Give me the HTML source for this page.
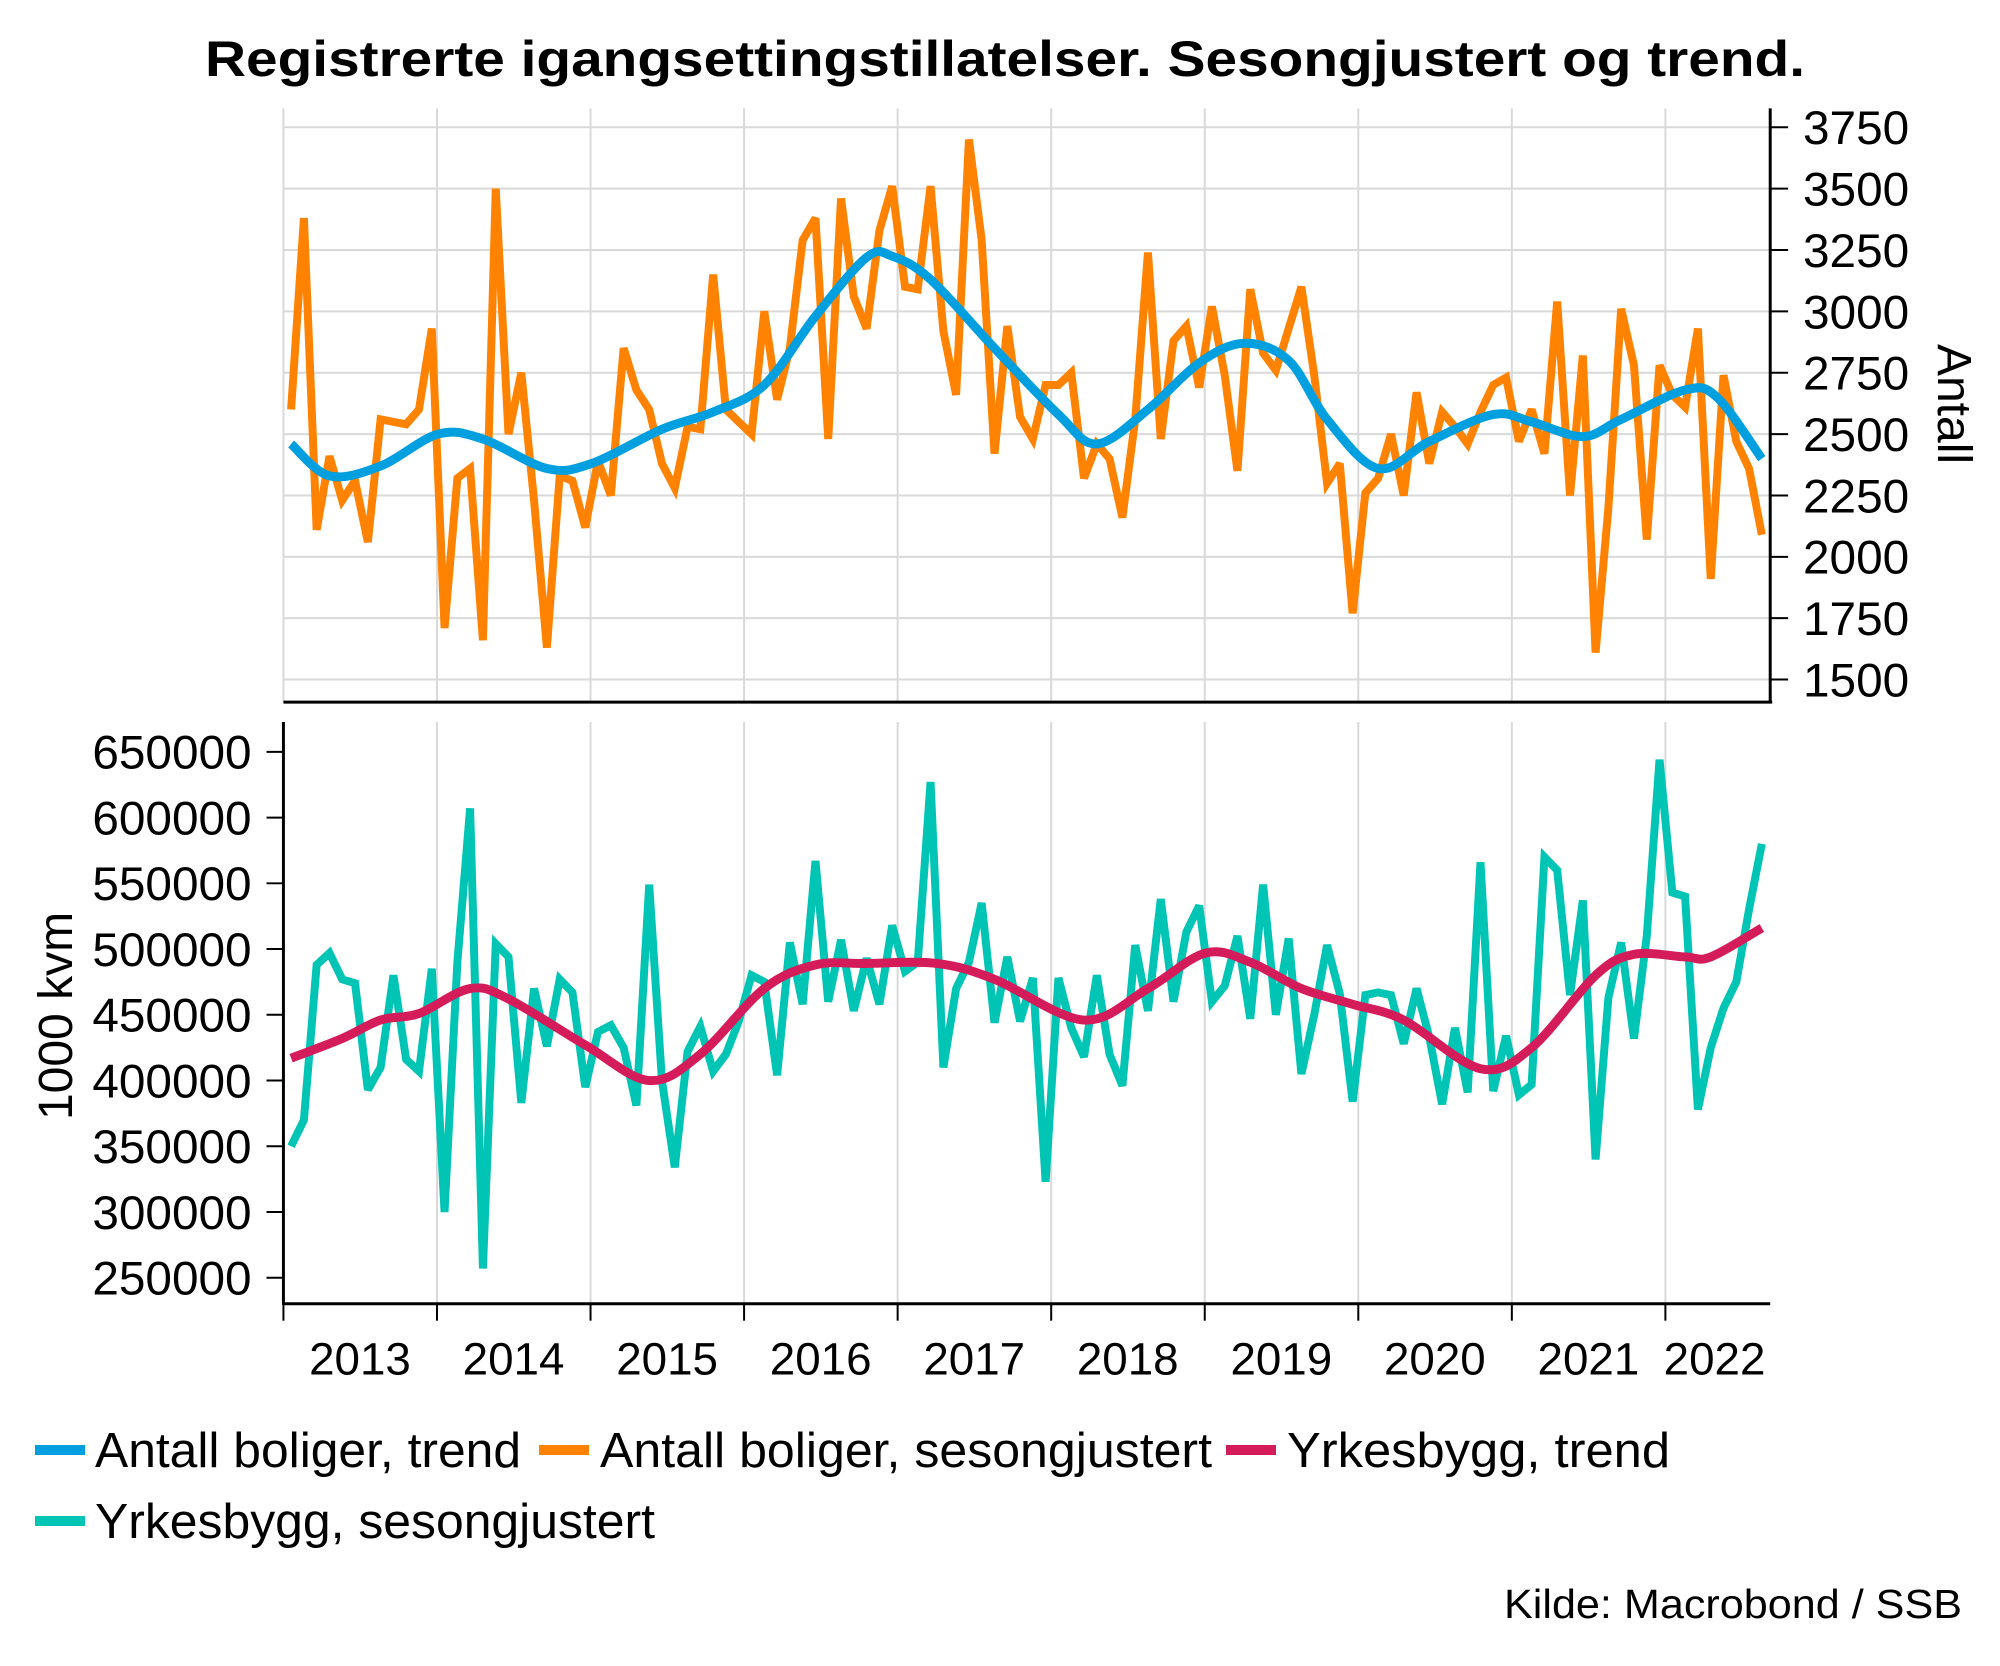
<!DOCTYPE html>
<html><head><meta charset="utf-8"><style>
html,body{margin:0;padding:0;background:#fff;}
svg{display:block;font-family:"Liberation Sans",Arial,sans-serif;}
</style></head><body>
<svg id="c" width="2000" height="1666" viewBox="0 0 2000 1666" xmlns="http://www.w3.org/2000/svg">
<rect width="2000" height="1666" fill="#fff"/>
<text x="1005" y="76" text-anchor="middle" font-size="50" font-weight="bold" textLength="1600" lengthAdjust="spacingAndGlyphs">Registrerte igangsettingstillatelser. Sesongjustert og trend.</text>
<g transform="scale(0.9945)">
<g id="grid"></g>
<g id="axes"></g>
<g id="series"></g>
</g>
<text transform="translate(1938,404) rotate(90)" text-anchor="middle" font-size="48">Antall</text>
<text transform="translate(72,1016) rotate(-90)" text-anchor="middle" font-size="48">1000 kvm</text>
<g font-size="49">
<rect x="35" y="1445" width="50" height="10" fill="#009fdf"/><text x="95" y="1467" textLength="426" lengthAdjust="spacingAndGlyphs">Antall boliger, trend</text>
<rect x="539" y="1445" width="50" height="10" fill="#ff8200"/><text x="600" y="1467" textLength="612" lengthAdjust="spacingAndGlyphs">Antall boliger, sesongjustert</text>
<rect x="1226" y="1445" width="50" height="10" fill="#d51c5a"/><text x="1287" y="1467" textLength="383" lengthAdjust="spacingAndGlyphs">Yrkesbygg, trend</text>
<rect x="35" y="1516" width="50" height="10" fill="#00c4b4"/><text x="95" y="1538" textLength="560" lengthAdjust="spacingAndGlyphs">Yrkesbygg, sesongjustert</text>
</g>
<text x="1962" y="1618" text-anchor="end" font-size="41" textLength="458" lengthAdjust="spacingAndGlyphs">Kilde: Macrobond / SSB</text>
</svg>
<script>
var NS="http://www.w3.org/2000/svg";
function el(p,t,a,txt){var e=document.createElementNS(NS,t);for(var k in a)e.setAttribute(k,a[k]);if(txt!==undefined)e.textContent=txt;p.appendChild(e);return e;}
var G=document.getElementById('grid'),A=document.getElementById('axes'),S=document.getElementById('series');
function X(i){return 292.7+12.86*i;}
function YT(v){return 128+(3750-v)/250*61.7;}
function YB(v){return 756+(650000-v)/50000*66.1;}
var L=285,R=1780;
for(var v=1500;v<=3750;v+=250){var y=YT(v);el(G,'line',{x1:L,x2:R,y1:y,y2:y,stroke:'#d9d9d9','stroke-width':2});
 el(A,'line',{x1:R,x2:R+18,y1:y,y2:y,stroke:'#000','stroke-width':2});
 el(A,'text',{x:1813,y:y+17,'font-size':48},String(v));}
for(var k=0;k<10;k++){var x=L+154.4*k;
 el(G,'line',{x1:x,x2:x,y1:109,y2:706,stroke:'#d9d9d9','stroke-width':2});
 el(G,'line',{x1:x,x2:x,y1:726,y2:1311,stroke:'#d9d9d9','stroke-width':2});
 el(A,'line',{x1:x,x2:x,y1:1311,y2:1328,stroke:'#000','stroke-width':2});
 var lx=(k<9)?x+77:1724;
 el(A,'text',{x:lx,y:1382,'text-anchor':'middle','font-size':46},String(2013+k));}
for(var v=250000;v<=650000;v+=50000){var y=YB(v);
 el(A,'line',{x1:268,x2:L,y1:y,y2:y,stroke:'#000','stroke-width':2});
 el(A,'text',{x:253,y:y+17,'text-anchor':'end','font-size':48},String(v));}
el(A,'line',{x1:L,x2:R+2,y1:706,y2:706,stroke:'#000','stroke-width':3});
el(A,'line',{x1:R,x2:R,y1:109,y2:707,stroke:'#000','stroke-width':3});
el(A,'line',{x1:L-1,x2:R,y1:1311,y2:1311,stroke:'#000','stroke-width':3});
el(A,'line',{x1:L,x2:L,y1:726,y2:1312,stroke:'#000','stroke-width':3});

var orange=[2600,3380,2110,2410,2230,2310,2060,2560,2550,2540,2600,2930,
1710,2320,2360,1660,3500,2500,2750,2230,1630,2330,2310,2120,
2390,2250,2850,2680,2600,2380,2280,2530,2520,3150,2600,2550,
2500,3000,2640,2850,3290,3380,2480,3460,3060,2930,3330,3510,
3100,3090,3510,2920,2660,3700,3290,2420,2940,2570,2480,2700,
2700,2750,2320,2460,2400,2160,2560,3240,2480,2880,2940,2690,
3020,2740,2350,3090,2830,2760,2930,3100,2740,2300,2380,1770,
2260,2320,2500,2250,2670,2380,2590,2530,2460,2590,2700,2730,
2470,2600,2420,3040,2250,2820,1610,2200,3010,2780,2070,2780,
2660,2610,2930,1910,2740,2470,2360,2090];
var teal=[350000,370000,488000,497000,477000,474000,393000,410000,480000,416000,407000,485000,
300000,490000,607000,257000,504000,494000,383000,470000,426000,477000,467000,395000,
437000,442000,425000,381000,549000,400000,334000,422000,441000,407000,420000,445000,
480000,475000,404000,505000,458000,567000,460000,507000,453000,493000,458000,518000,
483000,490000,627000,410000,470000,490000,535000,444000,494000,445000,478000,323000,
478000,440000,418000,480000,420000,396000,503000,453000,538000,460000,513000,533000,
460000,472000,510000,447000,549000,450000,508000,405000,450000,503000,466000,384000,
465000,467000,465000,428000,470000,433000,382000,440000,391000,566000,392000,434000,
389000,397000,570000,560000,465000,537000,340000,463000,505000,432000,510000,644000,
543000,540000,378000,425000,455000,475000,530000,580000];
var blueC=[[0,2460],[3,2330],[7,2370],[11.5,2500],[15,2480],[20,2360],[23.5,2380],[29,2520],[33,2590],[37,2700],[41,2980],[45,3220],[47,3225],[50,3130],[55,2850],[60,2580],[63,2460],[67,2600],[71,2790],[74.5,2870],[78,2800],[81,2560],[85,2360],[89,2470],[94,2580],[97,2550],[101,2490],[104,2560],[109,2680],[111.5,2650],[115,2400]];
var redC=[[0,417000],[4,432000],[7,446000],[10,451000],[14,470000],[17,462000],[23,427000],[28,400000],[32,420000],[37,470000],[41,488000],[45,489000],[50.5,489000],[55,477000],[62,446000],[67,470000],[71.5,497000],[75,490000],[79,470000],[83,458000],[87,446000],[93,409000],[97,425000],[102,480000],[105,496000],[109,494000],[111,494000],[115,516000]];
function poly(vals,yf,col){var d='';for(var i=0;i<vals.length;i++)d+=(i?'L':'M')+X(i).toFixed(1)+','+yf(vals[i]).toFixed(1);
 el(S,'path',{d:d,fill:'none',stroke:col,'stroke-width':8,'stroke-linejoin':'miter','stroke-miterlimit':3});}
function smooth(pts,yf,col){var P=pts.map(function(p){return [X(p[0]),yf(p[1])];});
 var d='M'+P[0][0].toFixed(1)+','+P[0][1].toFixed(1);
 for(var i=0;i<P.length-1;i++){var p0=P[i-1]||P[i],p1=P[i],p2=P[i+1],p3=P[i+2]||P[i+1];
  var c1=[p1[0]+(p2[0]-p0[0])/6,p1[1]+(p2[1]-p0[1])/6],c2=[p2[0]-(p3[0]-p1[0])/6,p2[1]-(p3[1]-p1[1])/6];
  d+='C'+c1[0].toFixed(1)+','+c1[1].toFixed(1)+' '+c2[0].toFixed(1)+','+c2[1].toFixed(1)+' '+p2[0].toFixed(1)+','+p2[1].toFixed(1);}
 el(S,'path',{d:d,fill:'none',stroke:col,'stroke-width':9});}
poly(orange,YT,'#ff8200');
smooth(blueC,YT,'#009fdf');
poly(teal,YB,'#00c4b4');
smooth(redC,YB,'#d51c5a');
</script>
</body></html>
